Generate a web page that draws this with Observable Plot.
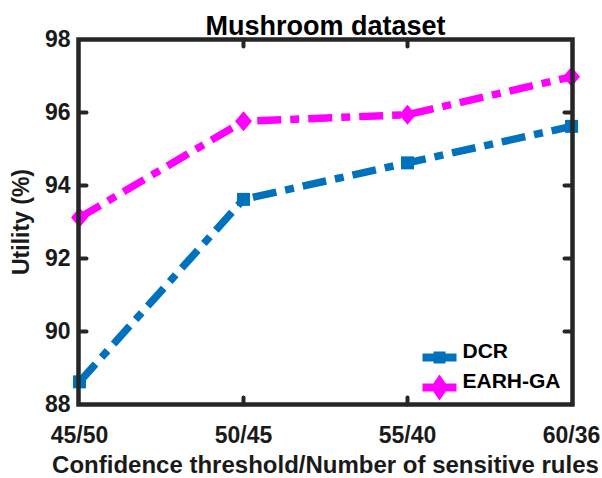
<!DOCTYPE html>
<html>
<head>
<meta charset="utf-8">
<script src="https://cdn.jsdelivr.net/npm/d3@7"></script>
<script src="https://cdn.jsdelivr.net/npm/@observablehq/plot@0.6"></script>
<style>
  html, body { margin: 0; padding: 0; background: #fff; }
  #chart svg { display: block; }
</style>
</head>
<body>
<div id="chart"></div>
<script>
const categories = ["45/50", "50/45", "55/40", "60/36"];
const dcrValues = [88.62, 93.62, 94.62, 95.62];
const earhValues = [93.12, 95.76, 95.94, 96.98];
const seriesNames = ["DCR", "EARH-GA"];
const yTicks = [88, 90, 92, 94, 96, 98];
const titleText = "Mushroom dataset";
const xLabel = "Confidence threshold/Number of sensitive rules";
const yLabel = "Utility (%)";

const colors = {"DCR": "#0072BD", "EARH-GA": "#FF00FF"};
const font = "'Liberation Sans', Arial, Helvetica, sans-serif";
const axisColor = "#262626";

const rows = [
  ...categories.map((c, i) => ({cat: c, value: dcrValues[i], series: "DCR"})),
  ...categories.map((c, i) => ({cat: c, value: earhValues[i], series: "EARH-GA"}))
];

const squareSym = {draw(ctx) { ctx.rect(-6.5, -6.5, 13, 13); }};
const diamondSym = {draw(ctx) { ctx.moveTo(0, -10); ctx.lineTo(8.5, 0); ctx.lineTo(0, 10); ctx.lineTo(-8.5, 0); ctx.closePath(); }};
const legendDCR = {draw(ctx) { ctx.rect(-17, -4, 34, 8); ctx.rect(-6, -6, 12, 12); }};
const legendEARH = {draw(ctx) { ctx.rect(-17, -4, 34, 8); ctx.moveTo(0, -13); ctx.lineTo(9, 0); ctx.lineTo(0, 13); ctx.lineTo(-9, 0); ctx.closePath(); }};
const tickShape = {draw(ctx, l) { ctx.moveTo(0, 0); ctx.lineTo(0, -l); }};

const innerY = yTicks.slice(1, -1);
const innerX = categories.slice(1, -1);

const chart = Plot.plot({
  width: 602,
  height: 478,
  marginLeft: 78,
  marginRight: 30,
  marginTop: 39,
  marginBottom: 74,
  style: {fontFamily: font, color: "#000", background: "#fff"},
  x: {type: "point", domain: categories, padding: 0},
  y: {domain: [88, 98]},
  marks: [
    Plot.axisY({ticks: yTicks, tickSize: 0, tickPadding: 8, fontSize: 23, fontWeight: "bold", fill: "#1a1a1a",
      label: yLabel, labelAnchor: "center", labelArrow: "none", labelOffset: 66}),
    Plot.axisX({tickSize: 0, tickPadding: 22, fontSize: 23, fontWeight: "bold", fill: "#1a1a1a", label: null}),
    Plot.axisX({tickSize: 0, ticks: [], fontSize: 24, fontWeight: "bold", fill: "#1a1a1a",
      label: xLabel, labelAnchor: "center", labelArrow: "none", labelOffset: 68}),
    // inward ticks
    Plot.vector(innerY, {x: () => categories[0], y: d => d, length: 7, rotate: 90, anchor: "start", shape: tickShape, stroke: axisColor, strokeWidth: 4}),
    Plot.vector(innerY, {x: () => categories[categories.length - 1], y: d => d, length: 7, rotate: -90, anchor: "start", shape: tickShape, stroke: axisColor, strokeWidth: 4}),
    Plot.vector(innerX, {x: d => d, y: () => 88, length: 7, rotate: 0, anchor: "start", shape: tickShape, stroke: axisColor, strokeWidth: 4}),
    Plot.vector(innerX, {x: d => d, y: () => 98, length: 7, rotate: 180, anchor: "start", shape: tickShape, stroke: axisColor, strokeWidth: 4}),
    Plot.line(rows, {x: "cat", y: "value", z: "series", stroke: d => colors[d.series], strokeWidth: 7.5,
      strokeDasharray: "24,9,9,9", strokeLinecap: "butt", strokeLinejoin: "miter"}),
    Plot.dot(rows.filter(d => d.series === "DCR"), {x: "cat", y: "value", symbol: () => squareSym, fill: colors["DCR"], stroke: "none"}),
    Plot.dot(rows.filter(d => d.series === "EARH-GA"), {x: "cat", y: "value", symbol: () => diamondSym, fill: colors["EARH-GA"], stroke: "none"}),
    Plot.frame({stroke: axisColor, strokeWidth: 4.5}),
    // title
    Plot.text([titleText], {frameAnchor: "top", dy: -5, fontSize: 27, fontWeight: "bold", fill: "#000", lineAnchor: "bottom"}),
    // legend
    Plot.dot([seriesNames[0]], {frameAnchor: "bottom-right", dx: -133, dy: -47, symbol: () => legendDCR, fill: colors["DCR"], stroke: "none"}),
    Plot.dot([seriesNames[1]], {frameAnchor: "bottom-right", dx: -133, dy: -17, symbol: () => legendEARH, fill: colors["EARH-GA"], stroke: "none"}),
    Plot.text([seriesNames[0]], {frameAnchor: "bottom-right", dx: -110, dy: -47, text: d => d, textAnchor: "start", fontSize: 21, fontWeight: "bold", fill: "#000"}),
    Plot.text([seriesNames[1]], {frameAnchor: "bottom-right", dx: -110, dy: -17, text: d => d, textAnchor: "start", fontSize: 21, fontWeight: "bold", fill: "#000"})
  ]
});
document.getElementById("chart").appendChild(chart);
</script>
</body>
</html>
